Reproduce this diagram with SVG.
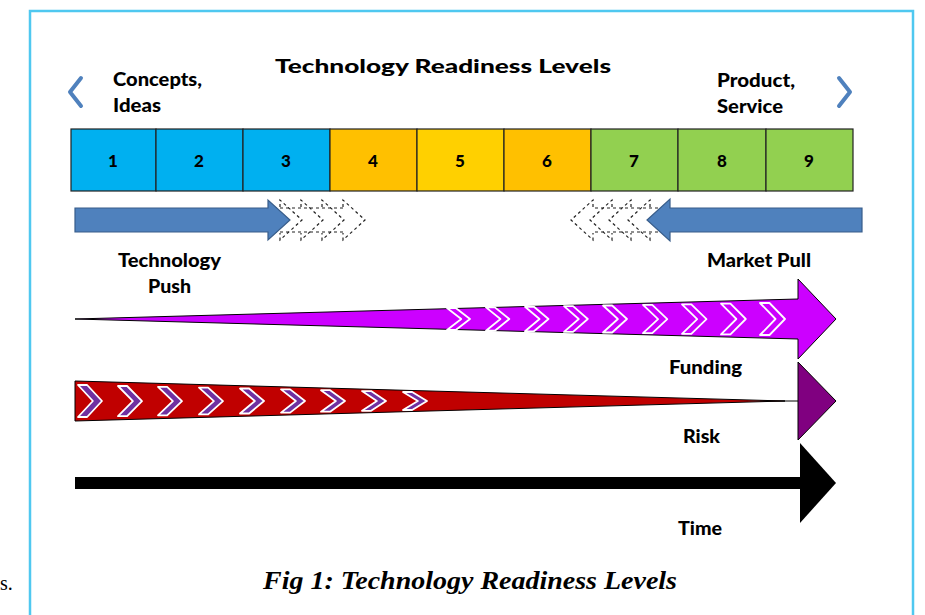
<svg xmlns="http://www.w3.org/2000/svg" width="925" height="615" viewBox="0 0 925 615">
  <defs>
    <style>
      .lbl { font-family: Lato, "Open Sans", "Liberation Sans", sans-serif; font-weight: 900; fill: #000; font-size: 19px; }
      .num { font-family: Lato, "Open Sans", "Liberation Sans", sans-serif; font-weight: 900; font-size: 17px; text-anchor: middle; }
      .cell { stroke: #222; stroke-width: 1.2; }
      .blue { fill: #00B0F0; }
      .orange { fill: #FFC000; }
      .yellow { fill: #FFD000; }
      .green { fill: #92D050; }
      .nav { fill: none; stroke: #4F81BD; stroke-width: 4; stroke-linecap: round; stroke-linejoin: round; }
      .bigarrow { fill: #4F81BD; stroke: #385D8A; stroke-width: 1.2; }
      .ghost { fill: none; stroke: #222; stroke-width: 1.2; stroke-dasharray: 3 3; }
      .fchev { fill: #CC00FF; stroke: #fff; stroke-width: 1.8; stroke-linejoin: round; }
      .rchev { fill: #7030A0; stroke: #fff; stroke-width: 1.8; stroke-linejoin: round; }
    </style>
    <!-- unit chevron, 1 x 1 box, scaled per use -->
    <path id="chev" d="M0,0 L0.38,0 L1,0.5 L0.38,1 L0,1 L0.62,0.5 Z" vector-effect="non-scaling-stroke"/>
  </defs>

  <rect width="925" height="615" fill="#fff"/>

  <!-- outer frame -->
  <rect x="30" y="11" width="883" height="700" fill="none" stroke="#4FC8F0" stroke-width="2.5"/>
  <text x="0" y="590" font-family="'Liberation Serif', serif" font-size="20">s.</text>

  <!-- title and end labels -->
  <g id="title">
    <text class="lbl" x="275" y="73" font-size="24" textLength="336" lengthAdjust="spacingAndGlyphs">Technology Readiness Levels</text>
  </g>
  <g id="concepts">
    <polyline class="nav" points="81,78 70,92 81,106"/>
    <text class="lbl" x="113" y="86" textLength="89" lengthAdjust="spacingAndGlyphs">Concepts,</text>
    <text class="lbl" x="113" y="112" textLength="48" lengthAdjust="spacingAndGlyphs">Ideas</text>
  </g>
  <g id="product">
    <polyline class="nav" points="839,78 850,92 839,106"/>
    <text class="lbl" x="717" y="87" textLength="78" lengthAdjust="spacingAndGlyphs">Product,</text>
    <text class="lbl" x="717" y="113" textLength="66" lengthAdjust="spacingAndGlyphs">Service</text>
  </g>

  <!-- readiness level scale -->
  <g id="levels">
    <g id="trl1"><rect class="cell blue" x="71" y="129" width="85" height="62"/><text class="num" x="113" y="167">1</text></g>
    <g id="trl2"><rect class="cell blue" x="156" y="129" width="87" height="62"/><text class="num" x="199" y="167">2</text></g>
    <g id="trl3"><rect class="cell blue" x="243" y="129" width="87" height="62"/><text class="num" x="286" y="167">3</text></g>
    <g id="trl4"><rect class="cell orange" x="330" y="129" width="87" height="62"/><text class="num" x="373" y="167">4</text></g>
    <g id="trl5"><rect class="cell yellow" x="417" y="129" width="87" height="62"/><text class="num" x="460" y="167">5</text></g>
    <g id="trl6"><rect class="cell orange" x="504" y="129" width="87" height="62"/><text class="num" x="547" y="167">6</text></g>
    <g id="trl7"><rect class="cell green" x="591" y="129" width="87" height="62"/><text class="num" x="634" y="167">7</text></g>
    <g id="trl8"><rect class="cell green" x="678" y="129" width="88" height="62"/><text class="num" x="722" y="167">8</text></g>
    <g id="trl9"><rect class="cell green" x="766" y="129" width="87" height="62"/><text class="num" x="809" y="167">9</text></g>
  </g>

  <!-- technology push -->
  <g id="push">
    <g class="ghost">
      <polyline points="268,208 343,208"/>
      <polyline points="268,232 343,232"/>
      <polyline points="280,207 280,200 302,220 280,240 280,233"/>
      <polyline points="301,207 301,200 323,220 301,240 301,233"/>
      <polyline points="322,207 322,200 344,220 322,240 322,233"/>
      <polyline points="343,207 343,200 365,220 343,240 343,233"/>
    </g>
    <polygon class="bigarrow" points="75,208 268,208 268,200 290,220 268,240 268,232 75,232"/>
    <text class="lbl" x="118" y="267" textLength="103" lengthAdjust="spacingAndGlyphs">Technology</text>
    <text class="lbl" x="148" y="293" textLength="43" lengthAdjust="spacingAndGlyphs">Push</text>
  </g>

  <!-- market pull -->
  <g id="pull">
    <g class="ghost">
      <polyline points="670,208 593,208"/>
      <polyline points="670,232 593,232"/>
      <polyline points="650,207 650,200 628,220 650,240 650,233"/>
      <polyline points="631,207 631,200 609,220 631,240 631,233"/>
      <polyline points="612,207 612,200 590,220 612,240 612,233"/>
      <polyline points="593,207 593,200 571,220 593,240 593,233"/>
    </g>
    <polygon class="bigarrow" points="862,208 670,208 670,199 647,220 670,241 670,232 862,232"/>
    <text class="lbl" x="707" y="267" textLength="104" lengthAdjust="spacingAndGlyphs">Market Pull</text>
  </g>

  <!-- funding, risk and time connectors -->
  <g id="connectors">
    <g id="funding">
      <polygon points="75,319 798,299 798,279 836,319 798,359 798,339" fill="#CC00FF" stroke="#000" stroke-width="1"/>
      <use href="#chev" class="fchev" transform="translate(447,308) scale(23,22)"/>
      <use href="#chev" class="fchev" transform="translate(486,307.4) scale(23.3,23.3)"/>
      <use href="#chev" class="fchev" transform="translate(525,306.8) scale(23.5,24.5)"/>
      <use href="#chev" class="fchev" transform="translate(564,306.1) scale(23.8,25.8)"/>
      <use href="#chev" class="fchev" transform="translate(603,305.5) scale(24,27)"/>
      <use href="#chev" class="fchev" transform="translate(643,304.9) scale(24.3,28.3)"/>
      <use href="#chev" class="fchev" transform="translate(682,304.3) scale(24.5,29.5)"/>
      <use href="#chev" class="fchev" transform="translate(721,303.6) scale(24.8,30.8)"/>
      <use href="#chev" class="fchev" transform="translate(760,303) scale(25,32)"/>
      <text class="lbl" x="669" y="374" textLength="73" lengthAdjust="spacingAndGlyphs">Funding</text>
    </g>
    <g id="risk">
      <line x1="760" y1="401" x2="798" y2="401" stroke="#000" stroke-width="1"/>
      <polygon points="75,381 785,401 75,421" fill="#C00000" stroke="#000" stroke-width="1"/>
      <polygon points="798,362 836,401 798,440" fill="#800080" stroke="#000" stroke-width="1"/>
      <use href="#chev" class="rchev" transform="translate(78,385) scale(24,32)"/>
      <use href="#chev" class="rchev" transform="translate(118,386) scale(24,30.2)"/>
      <use href="#chev" class="rchev" transform="translate(158,386.8) scale(24,28.5)"/>
      <use href="#chev" class="rchev" transform="translate(199,387.7) scale(24,26.7)"/>
      <use href="#chev" class="rchev" transform="translate(240,388.5) scale(24,25)"/>
      <use href="#chev" class="rchev" transform="translate(281,389.4) scale(24,23.2)"/>
      <use href="#chev" class="rchev" transform="translate(321,390.2) scale(24,21.5)"/>
      <use href="#chev" class="rchev" transform="translate(362,391.1) scale(24,19.7)"/>
      <use href="#chev" class="rchev" transform="translate(403,392) scale(24,18)"/>
      <text class="lbl" x="683" y="443" textLength="37" lengthAdjust="spacingAndGlyphs">Risk</text>
    </g>
    <g id="time">
      <rect x="75" y="477" width="727" height="12" fill="#000"/>
      <polygon points="800,443 836,483 800,523" fill="#000"/>
      <text class="lbl" x="678" y="535" textLength="44" lengthAdjust="spacingAndGlyphs">Time</text>
    </g>
  </g>

  <!-- caption -->
  <text x="263" y="589" font-family="'Liberation Serif', serif" font-weight="bold" font-style="italic" font-size="26" textLength="414" lengthAdjust="spacingAndGlyphs">Fig 1: Technology Readiness Levels</text>
</svg>
